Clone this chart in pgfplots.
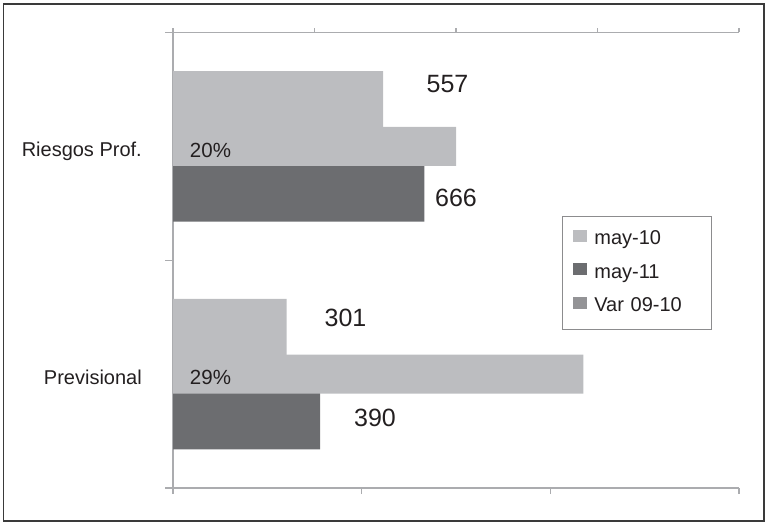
\documentclass[border=0pt]{standalone}
\usepackage{fontspec}
\setmainfont{Liberation Sans}
\usepackage{pgfplots}
\pgfplotsset{compat=1.18}

\definecolor{maylight}{HTML}{BCBDC0}
\definecolor{maydark}{HTML}{6C6D70}
\definecolor{varmid}{HTML}{939396}
\definecolor{axisgray}{HTML}{ABACAF}
\definecolor{legendgray}{HTML}{8C8C8E}
\definecolor{framegray}{HTML}{3A3A3A}
\definecolor{textdark}{HTML}{231F20}

\pgfplotsset{
  chartbase/.style={
    at={(173pt,34pt)}, anchor=south west, scale only axis,
    width=566pt, height=455.5pt,
    ymin=-0.5, ymax=1.5,
    tick align=outside,
    axis line style={axisgray, line width=1.1pt},
    every tick/.style={axisgray, line width=1.1pt},
    xticklabels={}, yticklabels={},
  },
}

\begin{document}
\begin{tikzpicture}[x=1pt,y=1pt]
\path[use as bounding box] (0,0) rectangle (765,522);
\draw[framegray, line width=1.8pt] (3.5,1.2) rectangle (764,518);

% primary axis: absolute values (0 -- 1500)
\begin{axis}[chartbase,
  xbar, xmin=0, xmax=1500, xtick={0,500,1000,1500},
  ytick={-0.5,0.5,1.5},
  x tick style={/pgfplots/major tick length=6pt},
  y tick style={/pgfplots/major tick length=8pt},
  axis x line*=bottom, axis y line*=left,
  legend image code/.code={\fill[#1] (0pt,3pt) rectangle (14pt,15pt); \path (21pt,0pt);},
  legend style={at={(rel axis cs:0.687,0.597)}, anchor=north west,
    draw=legendgray, line width=1pt, fill=white,
    font=\fontsize{20}{24}\selectfont, text=textdark,
    inner xsep=11pt, inner ysep=13pt, row sep=13.5pt,
    cells={anchor=base west},
    nodes={inner sep=0pt, text height=15pt, text depth=5pt, text width=106pt, align=left}},
]
\addplot[fill=maylight, draw=none, bar width=0.33, bar shift=0.165]
  coordinates {(301,0) (557,1)};
\addlegendentry{may-10}
\addplot[fill=maydark, draw=none, bar width=0.33, bar shift=-0.165]
  coordinates {(390,0) (666,1)};
\addlegendentry{may-11}
\addlegendimage{fill=varmid, draw=none}
\addlegendentry{Var 09-10}
\end{axis}

% secondary axis: variation in percent (0 -- 40)
\begin{axis}[chartbase,
  xbar, xmin=0, xmax=40, xtick={0,10,20,30,40},
  major tick length=4pt,
  axis x line*=top, axis y line=none,
]
\addplot[fill=maylight, draw=none, bar width=0.171, bar shift=0]
  coordinates {(29,0) (20,1)};
\end{axis}

\begin{scope}[every node/.style={text=textdark, inner sep=0pt}]
% category names
\node[anchor=base east, font=\fontsize{20}{24}\selectfont] at (142,365) {Riesgos Prof.};
\node[anchor=base east, font=\fontsize{20}{24}\selectfont] at (142,137) {Previsional};

% value labels
\node[font=\fontsize{25}{30}\selectfont] at (447.5,438) {557};
\node[font=\fontsize{25}{30}\selectfont] at (456,324.5) {666};
\node[font=\fontsize{25}{30}\selectfont] at (345.5,204.5) {301};
\node[font=\fontsize{25}{30}\selectfont] at (375,104) {390};
\node[font=\fontsize{20.5}{24}\selectfont] at (210.5,372) {20\%};
\node[font=\fontsize{20.5}{24}\selectfont] at (210.5,145) {29\%};
\end{scope}
\end{tikzpicture}
\end{document}
